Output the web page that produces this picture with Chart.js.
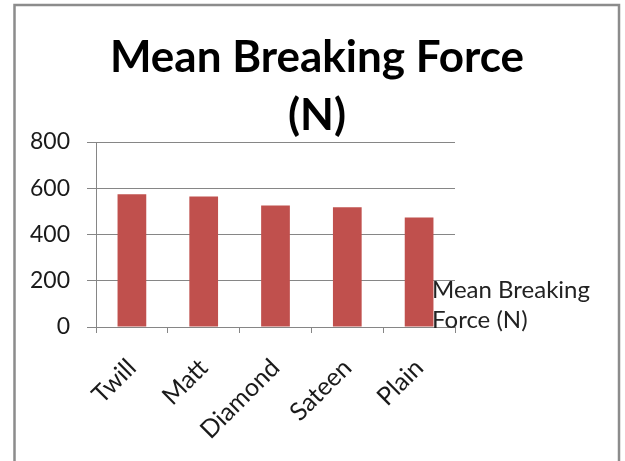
<!DOCTYPE html>
<html>
<head>
<meta charset="utf-8">
<script src="https://cdn.jsdelivr.net/npm/chart.js@4.4.0/dist/chart.umd.min.js"></script>
<style>
  body { margin: 0; background: #fff; }
  canvas { display: block; }
</style>
</head>
<body>
<canvas id="chart" width="625" height="461"></canvas>
<script>
// valores
const categories = ['Twill', 'Matt', 'Diamond', 'Sateen', 'Plain'];
const breakingForce = [574, 564, 525, 518, 473];
const seriesName = 'Mean Breaking Force (N)';
const titleLines = ['Mean Breaking Force', '(N)'];
const legendLines = ['Mean Breaking', 'Force (N)'];

const FONT = 'Lato, "Open Sans", sans-serif';
const GRID = '#868686';

// desenha moldura, título e legenda por cima do gráfico
const decorPlugin = {
    id: 'decor',
    beforeDraw(chart) {
        const ctx = chart.ctx;
        ctx.save();
        ctx.fillStyle = '#fff';
        ctx.fillRect(0, 0, chart.width, chart.height);
        ctx.restore();
    },
    afterDraw(chart) {
        const ctx = chart.ctx;
        ctx.save();
        // moldura
        ctx.strokeStyle = '#8c8c8c';
        ctx.lineWidth = 2.5;
        ctx.strokeRect(14.5, 5, 604.5, 470);
        // título
        ctx.fillStyle = '#000';
        ctx.textAlign = 'center';
        ctx.textBaseline = 'alphabetic';
        ctx.font = 'bold 44px ' + FONT;
        ctx.fillText(titleLines[0], 317, 72);
        ctx.fillText(titleLines[1], 317, 130);
        // legenda
        ctx.fillStyle = '#222';
        ctx.textAlign = 'left';
        ctx.font = '24px ' + FONT;
        ctx.fillText(legendLines[0], 432, 298);
        ctx.fillText(legendLines[1], 432, 328);
        ctx.restore();
    }
};

new Chart(document.getElementById('chart'), {
    type: 'bar',
    data: {
        labels: categories,
        datasets: [{
            label: seriesName,
            data: breakingForce,
            backgroundColor: '#C0504D',
            borderWidth: 0,
            barPercentage: 0.4,
            categoryPercentage: 1.0
        }]
    },
    options: {
        responsive: false,
        animation: false,
        layout: { padding: { left: 20, right: 170, top: 142, bottom: 0 } },
        plugins: {
            legend: { display: false },
            title: { display: false },
            tooltip: { enabled: false }
        },
        scales: {
            x: {
                grid: { drawOnChartArea: false, tickLength: 6, color: GRID, offset: true },
                border: { color: GRID, width: 1 },
                ticks: {
                    color: '#1a1a1a',
                    font: { family: FONT, size: 25 },
                    maxRotation: 45,
                    minRotation: 45,
                    autoSkip: false,
                    padding: 20
                },
                afterFit(scale) { scale.height = 134; }
            },
            y: {
                min: 0,
                max: 800,
                ticks: {
                    stepSize: 200,
                    color: '#1a1a1a',
                    font: { family: FONT, size: 23 },
                    padding: 17
                },
                grid: { color: GRID, tickLength: 9 },
                border: { color: GRID, width: 1 },
                afterFit(scale) { scale.width = 76; }
            }
        }
    },
    plugins: [decorPlugin]
});
</script>
</body>
</html>
